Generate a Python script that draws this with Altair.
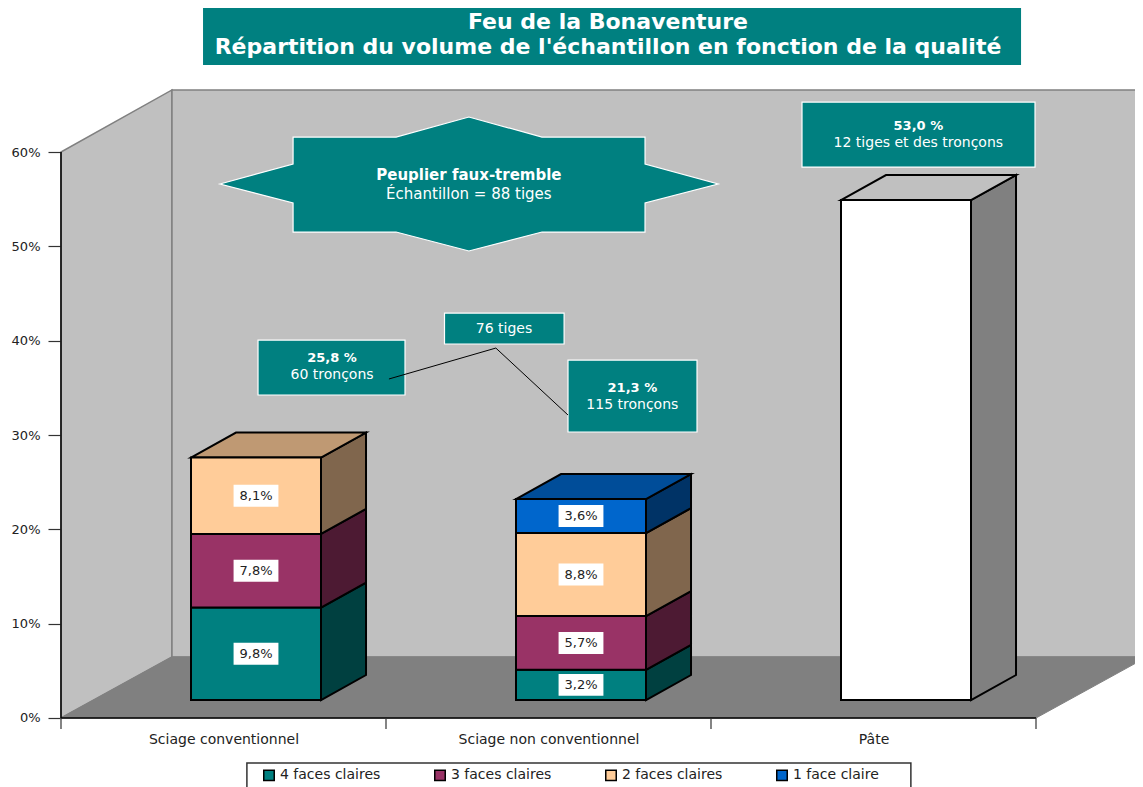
import json
import altair as alt
import pandas as pd

FONT = "DejaVu Sans"
TITLE = ["Feu de la Bonaventure", "Répartition du volume de l'échantillon en fonction de la qualité"]
CATEGORIES = ["Sciage conventionnel", "Sciage non conventionnel", "Pâte"]
SERIES = ["4 faces claires", "3 faces claires", "2 faces claires", "1 face claire"]
FRONT = ["#008080", "#993366", "#FFCC99", "#0066CC"]
SIDE = ["#004040", "#4D1A33", "#80664D", "#003366"]
TOP = ["#006060", "#732640", "#BF9973", "#004D99"]
VALUES = {0: [9.8, 7.8, 8.1, 0], 1: [3.2, 5.7, 8.8, 3.6]}
LABELS = {0: ["9,8%", "7,8%", "8,1%", ""], 1: ["3,2%", "5,7%", "8,8%", "3,6%"]}
PATE = 53.0

# Geometry of the 3-D box, in axis units
WALL_DX, WALL_DY = 0.3415, 6.47
BAR_LEFT, BAR_W = 0.40, 0.40
BAR_BASE = 1.908
BAR_DX, BAR_DY = 0.1385, 2.65
LABEL_W, LABEL_H = 0.069, 1.16

x_scale = alt.Scale(domain=[0, 1074 / 325], nice=False, zero=False)
y_scale = alt.Scale(domain=[-7.315, 75.27], nice=False, zero=False)
y_ticks = [0, 10, 20, 30, 40, 50, 60]
x_label_expr = "%s[floor(datum.value)]" % json.dumps(CATEGORIES, ensure_ascii=False)
x_axis = alt.Axis(
    values=[0.5, 1.5, 2.5], labelExpr=x_label_expr, tickSize=0, domain=False, grid=False,
    offset=-69, labelFont=FONT, labelFontSize=14, labelColor="#222222", labelPadding=14,
    labelOverlap=False, labelFlush=False, labelLimit=320, title=None)
y_axis = alt.Axis(
    values=y_ticks, labelExpr="datum.value + '%'", domain=False, grid=False, tickSize=13,
    tickColor="#333333", tickWidth=1.2, labelFont=FONT, labelFontSize=13,
    labelColor="#222222", labelPadding=8, title=None)
X = alt.X("x:Q", scale=x_scale, axis=x_axis)
Y = alt.Y("y:Q", scale=y_scale, axis=y_axis, stack=None)
Y2 = alt.Y2("y2:Q")


def area_layer(rows, stroke, width):
    """rows: (group, colour, [(x, y, y2), ...])"""
    recs = []
    for g, c, pts in rows:
        for i, (a, b, d) in enumerate(pts):
            recs.append(dict(g=g, c=c, i=i, x=a, y=b, y2=d))
    return alt.Chart(pd.DataFrame(recs)).mark_area(
        stroke=stroke, strokeWidth=width
    ).encode(x=X, y=Y, y2=Y2, fill=alt.Fill("c:N", scale=None, legend=None),
             detail="g:N")


def rect_layer(rows, fill, stroke=None, width=1.5):
    df = pd.DataFrame(rows, columns=["x", "x2", "y", "y2"])
    kw = dict(fill=fill)
    if stroke:
        kw.update(stroke=stroke, strokeWidth=width)
    return alt.Chart(df).mark_rect(**kw).encode(x=X, x2=alt.X2("x2:Q"), y=Y, y2=Y2)


def text_layer(rows, size=12, bold=False, color="white"):
    df = pd.DataFrame(rows, columns=["x", "y", "t"])
    return alt.Chart(df).mark_text(
        font=FONT, fontSize=size, fontWeight="bold" if bold else "normal", color=color,
        align="center", baseline="middle"
    ).encode(x=X, y=Y, text="t:N")


# Walls and floor
TOP_WALL = 66.58
walls = area_layer([
    ("a", "#C0C0C0", [(0, 0, 60), (WALL_DX, WALL_DY, TOP_WALL)]),
    ("b", "#C0C0C0", [(WALL_DX, WALL_DY, TOP_WALL), (3 + WALL_DX, WALL_DY, TOP_WALL)]),
], "#808080", 1.5)
floor = area_layer([
    ("f", "#808080", [(0, 0, 0), (WALL_DX, WALL_DY, 0), (3, WALL_DY, 0), (3 + WALL_DX, WALL_DY, WALL_DY)]),
], "#808080", 1)
axis_v = alt.Chart(pd.DataFrame({"x": [0], "y": [0], "y2": [60]})).mark_rule(color="black", strokeWidth=1.5).encode(x=X, y=Y, y2=Y2)
axis_h = alt.Chart(pd.DataFrame({"x": [0], "x2": [3], "y": [0]})).mark_rule(color="black", strokeWidth=1.5).encode(x=X, x2=alt.X2("x2:Q"), y=Y)
x_ticks = alt.Chart(pd.DataFrame({"x": [0, 1, 2, 3], "y": [0, 0, 0, 0], "y2": [-1.17] * 4})).mark_rule(color="#333333", strokeWidth=1.2).encode(x=X, y=Y, y2=Y2)

# Bars
front_rows, side_rows, top_rows, lab_boxes, lab_text = [], [], [], [], []
for cat, vals in VALUES.items():
    x0 = cat + BAR_LEFT
    x1 = x0 + BAR_W
    base = BAR_BASE
    last = None
    for s, v in enumerate(vals):
        if v == 0:
            continue
        top = base + v
        front_rows.append(dict(x=x0, x2=x1, y=base, y2=top, s=SERIES[s]))
        side_rows.append((f"{cat}{s}", SIDE[s], [(x1, base, top), (x1 + BAR_DX, base + BAR_DY, top + BAR_DY)]))
        mid = (base + top) / 2
        cx = (x0 + x1) / 2
        lab_boxes.append((cx - LABEL_W, cx + LABEL_W, mid - LABEL_H, mid + LABEL_H))
        lab_text.append((cx, mid, LABELS[cat][s]))
        base = top
        last = s
    top_rows.append((f"t{cat}", TOP[last], [(x0, base, base), (x0 + BAR_DX, base + BAR_DY, base),
                                            (x1, base + BAR_DY, base), (x1 + BAR_DX, base + BAR_DY, base + BAR_DY)]))

front = alt.Chart(pd.DataFrame(front_rows)).mark_rect(stroke="black", strokeWidth=2).encode(
    x=X, x2=alt.X2("x2:Q"), y=Y, y2=Y2,
    color=alt.Color("s:N", scale=alt.Scale(domain=SERIES, range=FRONT), legend=alt.Legend(
        orient="none", legendX=201, legendY=760, direction="horizontal", columns=4, title=None,
        padding=0, symbolType="square", symbolSize=110, symbolStrokeColor="black", symbolStrokeWidth=1.5,
        labelFont=FONT, labelFontSize=14, labelColor="#222222", labelOffset=4, columnPadding=50)),
)

p0 = 2 + BAR_LEFT
p1 = p0 + BAR_W
pate_top = BAR_BASE + PATE
pate_front = rect_layer([(p0, p1, BAR_BASE, pate_top)], "white", "black", 2)
pate_side = area_layer([("ps", "#808080", [(p1, BAR_BASE, pate_top), (p1 + BAR_DX, BAR_BASE + BAR_DY, pate_top + BAR_DY)])], "black", 2)
pate_cap = area_layer([("pt", "#C0C0C0", [(p0, pate_top, pate_top), (p0 + BAR_DX, pate_top + BAR_DY, pate_top),
                                          (p1, pate_top + BAR_DY, pate_top), (p1 + BAR_DX, pate_top + BAR_DY, pate_top + BAR_DY)])], "black", 2)

sides = area_layer(side_rows, "black", 2)
tops = area_layer(top_rows, "black", 2)
label_boxes = rect_layer(lab_boxes, "white")
label_texts = text_layer(lab_text, 13, False, "#222222")

# Callouts
TEAL = "#008080"
star = area_layer([("st", TEAL, [
    (0.489, 56.61, 56.61), (0.714, 58.73, 54.6), (0.7141, 61.59, 51.52), (1.031, 61.59, 51.52),
    (1.255, 63.71, 49.51), (1.48, 61.59, 51.52), (1.797, 61.59, 51.52), (1.7971, 58.73, 54.6),
    (2.022, 56.61, 56.61)])], "white", 1.2)
boxes = rect_layer([
    (0.6062, 1.0585, 40.07, 34.24),
    (1.18, 1.548, 42.93, 39.65),
    (1.56, 1.957, 37.95, 30.32),
    (2.28, 2.997, 65.3, 58.41),
], TEAL, "white", 1.2)
connector = alt.Chart(pd.DataFrame({"i": [0, 1, 2], "x": [1.009, 1.338, 1.56], "y": [35.94, 39.22, 32.12]})).mark_line(
    color="black", strokeWidth=1).encode(x=X, y=Y)
star_bold = text_layer([(1.255, 57.56, "Peuplier faux-tremble")], 15, True)
star_plain = text_layer([(1.255, 55.55, "Échantillon = 88 tiges")], 15)
bold_text = text_layer([
    (0.834, 38.16, "25,8 %"),
    (1.758, 34.98, "21,3 %"),
    (2.638, 62.76, "53,0 %"),
], 13, True)
plain_text = text_layer([
    (0.834, 36.36, "60 tronçons"),
    (1.363, 41.24, "76 tiges"),
    (1.758, 33.18, "115 tronçons"),
    (2.638, 60.96, "12 tiges et des tronçons"),
], 14)

title_box = rect_layer([(0.437, 2.954, 75.6, 69.22)], TEAL)
legend_box = rect_layer([(0.572, 2.615, -4.77, -8.0)], "white", "#333333", 1.5)

chart = alt.layer(
    walls, floor, axis_v, axis_h, x_ticks, title_box, legend_box,
    star, boxes, connector, star_bold, star_plain, bold_text, plain_text,
    pate_side, pate_cap, pate_front, sides, tops, front, label_boxes, label_texts,
).properties(
    width=1074, height=779,
    padding={"left": 53, "top": 0, "right": 0, "bottom": 0},
    autosize=alt.AutoSizeParams(type="none"),
    title=alt.TitleParams(text=TITLE, anchor="middle", dx=10, dy=58, font=FONT, fontSize=22,
                          fontWeight="bold", color="white", lineHeight=25),
).configure_view(stroke=None)

chart.save("out.html", embed_options={"renderer": "svg", "actions": False})
